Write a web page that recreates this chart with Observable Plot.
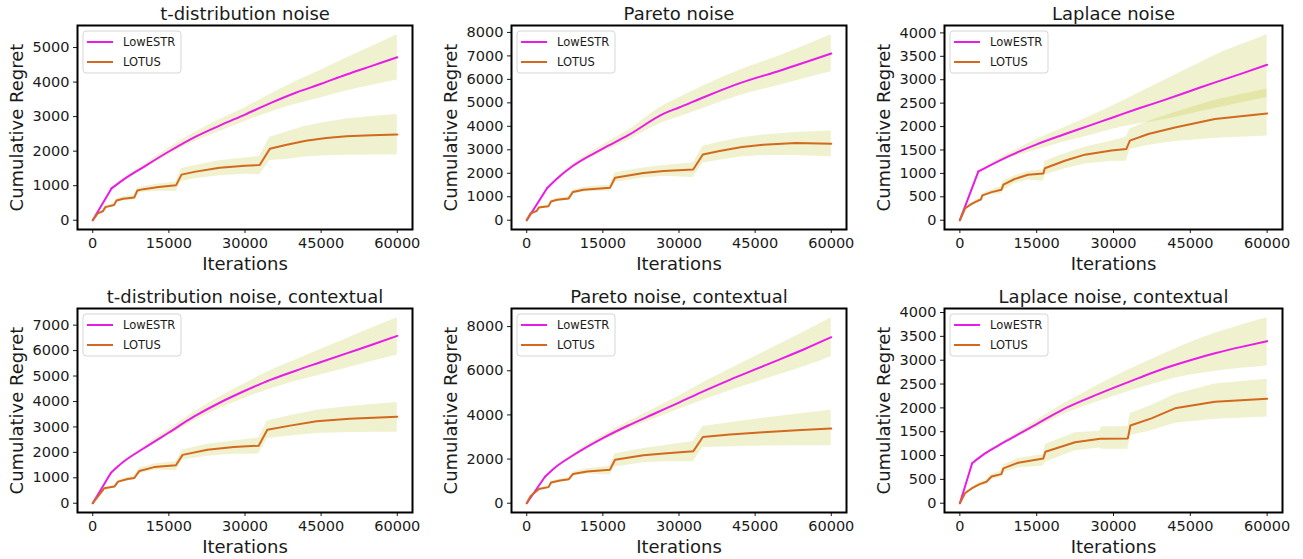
<!DOCTYPE html>
<html><head><meta charset="utf-8">
<script src="https://cdn.jsdelivr.net/npm/d3@7"></script>
<script src="https://cdn.jsdelivr.net/npm/@observablehq/plot@0.6"></script>
<style>
body{margin:0;background:#fff}
#c{position:relative;width:1303px;height:559px;overflow:hidden;background:#fff}
#c svg{position:absolute}
</style>
</head><body><div id="c"></div><script>
// ---------- shared ----------
const seriesNames = ["LowESTR", "LOTUS"];
const seriesColors = ["#e81ce8", "#d2691e"];
const bandColor = "#bcbd22";
const xTicks = [0, 15000, 30000, 45000, 60000];
const titles = ["t-distribution noise", "Pareto noise", "Laplace noise",
  "t-distribution noise, contextual", "Pareto noise, contextual", "Laplace noise, contextual"];
const yTicks1 = [0, 1000, 2000, 3000, 4000, 5000];
const yTicks2 = [0, 1000, 2000, 3000, 4000, 5000, 6000, 7000, 8000];
const yTicks3 = [0, 500, 1000, 1500, 2000, 2500, 3000, 3500, 4000];
const yTicks4 = [0, 1000, 2000, 3000, 4000, 5000, 6000, 7000];
const yTicks5 = [0, 2000, 4000, 6000, 8000];
const yTicks6 = [0, 500, 1000, 1500, 2000, 2500, 3000, 3500, 4000];

// ---------- panel 1: t-distribution noise ----------
const p1LowX  = [0, 3700, 6000, 10000, 15000, 20000, 25000, 30000, 35000, 40000, 45000, 50000, 55000, 60000];
const p1Low   = [0, 920, 1170, 1540, 1990, 2400, 2740, 3060, 3390, 3690, 3950, 4220, 4470, 4720];
const p1LowHi = [0, 950, 1220, 1600, 2090, 2530, 2910, 3260, 3650, 4020, 4350, 4700, 5030, 5370];
const p1LowLo = [0, 890, 1120, 1480, 1890, 2270, 2570, 2860, 3130, 3360, 3550, 3740, 3910, 4060];
const p1LotX  = [0, 1000, 2000, 2500, 4200, 4700, 6000, 8200, 8800, 10000, 13000, 16400, 17500, 20000, 25000, 30000, 32900, 34900, 38000, 42000, 46000, 50000, 55000, 60000];
const p1Lot   = [0, 200, 260, 380, 440, 570, 620, 660, 860, 900, 960, 1010, 1320, 1400, 1520, 1580, 1600, 2070, 2180, 2300, 2380, 2430, 2460, 2480];
const p1LotHi = [0, 220, 290, 420, 480, 620, 680, 720, 930, 980, 1050, 1110, 1500, 1580, 1720, 1800, 1850, 2400, 2550, 2720, 2840, 2930, 3000, 3060];
const p1LotLo = [0, 180, 230, 340, 390, 510, 550, 590, 780, 810, 840, 830, 1120, 1200, 1290, 1330, 1320, 1730, 1760, 1830, 1870, 1880, 1890, 1890];

// ---------- panel 2: Pareto noise ----------
const p2LowX  = [0, 4000, 6000, 9000, 15000, 20000, 27000, 30000, 35000, 42000, 50000, 60000];
const p2Low   = [0, 1360, 1780, 2300, 3050, 3620, 4540, 4800, 5250, 5840, 6380, 7100];
const p2LowHi = [0, 1390, 1830, 2380, 3200, 3830, 4900, 5220, 5740, 6390, 7020, 7900];
const p2LowLo = [0, 1330, 1730, 2220, 2900, 3410, 4180, 4400, 4780, 5310, 5760, 6320];
const p2LotX  = [0, 700, 2000, 2400, 4300, 4800, 6000, 8260, 9100, 11200, 16400, 17400, 23000, 27000, 32800, 34700, 38000, 42400, 46600, 53000, 60000];
const p2Lot   = [0, 280, 400, 540, 600, 800, 870, 930, 1200, 1300, 1380, 1810, 2010, 2100, 2160, 2800, 2950, 3120, 3220, 3290, 3260];
const p2LotHi = [0, 300, 440, 590, 660, 860, 940, 1010, 1290, 1400, 1500, 2020, 2220, 2330, 2440, 3150, 3320, 3510, 3630, 3740, 3800];
const p2LotLo = [0, 260, 360, 490, 540, 740, 800, 850, 1110, 1200, 1240, 1620, 1800, 1870, 1820, 2440, 2560, 2700, 2760, 2760, 2700];

// ---------- panel 3: Laplace noise ----------
const p3LowX  = [0, 3600, 5000, 10000, 15000, 20000, 25000, 30000, 35000, 40000, 45000, 50000, 55000, 60000];
const p3Low   = [0, 1040, 1120, 1390, 1620, 1820, 2010, 2200, 2390, 2570, 2760, 2950, 3130, 3320];
const p3LowHi = [0, 1060, 1150, 1450, 1730, 1960, 2200, 2450, 2720, 2990, 3260, 3530, 3750, 3960];
const p3LowLo = [0, 1020, 1090, 1330, 1500, 1660, 1800, 1950, 2060, 2150, 2270, 2390, 2510, 2620];
const p3LotX  = [0, 1000, 2300, 3600, 4100, 4400, 6200, 8100, 8500, 10700, 13300, 16300, 16600, 20500, 24400, 29600, 32500, 33200, 36800, 42000, 49800, 60000];
const p3Lot   = [0, 250, 350, 420, 440, 530, 600, 650, 760, 880, 970, 1000, 1110, 1270, 1400, 1490, 1520, 1700, 1840, 1980, 2160, 2280];
const p3LotHi = [0, 270, 380, 460, 480, 570, 650, 720, 840, 950, 1040, 1080, 1260, 1420, 1560, 1690, 1770, 1950, 2110, 2300, 2560, 2800];
const p3LotLo = [0, 230, 320, 390, 400, 490, 550, 560, 640, 780, 860, 830, 960, 1100, 1200, 1260, 1260, 1510, 1600, 1680, 1750, 1800];

// ---------- panel 4: t-distribution noise, contextual ----------
const p4LowX  = [0, 3600, 6000, 10000, 15000, 20000, 25000, 30000, 35000, 40000, 45000, 50000, 55000, 60000];
const p4Low   = [0, 1200, 1620, 2150, 2780, 3410, 3950, 4420, 4850, 5210, 5550, 5890, 6230, 6580];
const p4LowHi = [0, 1220, 1660, 2230, 2910, 3590, 4180, 4710, 5210, 5630, 6050, 6470, 6890, 7290];
const p4LowLo = [0, 1180, 1580, 2070, 2650, 3230, 3720, 4130, 4490, 4790, 5050, 5310, 5570, 5830];
const p4LotX  = [0, 1000, 2300, 4300, 5000, 6900, 8200, 9200, 12100, 16400, 17700, 22600, 27800, 32700, 34400, 38900, 44100, 50600, 60000];
const p4Lot   = [0, 260, 590, 660, 850, 950, 990, 1270, 1420, 1490, 1900, 2100, 2210, 2260, 2890, 3050, 3220, 3320, 3400];
const p4LotHi = [0, 280, 630, 710, 910, 1020, 1070, 1380, 1540, 1630, 2090, 2320, 2450, 2560, 3230, 3440, 3650, 3800, 3960];
const p4LotLo = [0, 240, 550, 610, 790, 880, 910, 1160, 1300, 1290, 1700, 1850, 1930, 1940, 2530, 2640, 2740, 2780, 2790];

// ---------- panel 5: Pareto noise, contextual ----------
const p5LowX  = [0, 3600, 5500, 9000, 15000, 20000, 25000, 30000, 35000, 40000, 45000, 50000, 55000, 60000];
const p5Low   = [0, 1200, 1600, 2150, 2950, 3520, 4040, 4560, 5090, 5590, 6060, 6530, 7010, 7520];
const p5LowHi = [0, 1230, 1650, 2230, 3080, 3690, 4270, 4860, 5490, 6080, 6650, 7220, 7800, 8400];
const p5LowLo = [0, 1170, 1550, 2070, 2820, 3350, 3810, 4260, 4690, 5100, 5470, 5840, 6220, 6640];
const p5LotX  = [0, 700, 2400, 4300, 4800, 6600, 8300, 9100, 11900, 16400, 17400, 23000, 27000, 32800, 34700, 40000, 46600, 53200, 60000];
const p5Lot   = [0, 300, 640, 730, 940, 1030, 1090, 1320, 1440, 1520, 1970, 2170, 2250, 2350, 3000, 3110, 3220, 3310, 3380];
const p5LotHi = [0, 320, 680, 780, 1000, 1100, 1170, 1420, 1560, 1680, 2240, 2480, 2600, 2800, 3480, 3650, 3850, 4030, 4220];
const p5LotLo = [0, 280, 600, 680, 880, 960, 1010, 1220, 1320, 1280, 1640, 1830, 1880, 1880, 2520, 2560, 2590, 2600, 2600];

// ---------- panel 6: Laplace noise, contextual ----------
const p6LowX  = [0, 2400, 3600, 5000, 7500, 10000, 15000, 20000, 25000, 30000, 35000, 40000, 45000, 50000, 55000, 60000];
const p6Low   = [0, 840, 940, 1050, 1210, 1360, 1660, 1960, 2200, 2420, 2630, 2830, 3000, 3150, 3280, 3400];
const p6LowHi = [0, 850, 960, 1070, 1240, 1400, 1740, 2070, 2360, 2640, 2900, 3140, 3370, 3570, 3740, 3890];
const p6LowLo = [0, 830, 920, 1030, 1180, 1320, 1580, 1850, 2060, 2240, 2410, 2570, 2690, 2770, 2830, 2880];
const p6LotX  = [0, 1000, 2300, 3900, 5200, 6200, 8100, 8500, 11400, 16300, 16700, 22500, 27400, 27600, 32800, 33300, 37400, 42000, 49800, 60000];
const p6Lot   = [0, 210, 310, 400, 450, 560, 610, 730, 850, 940, 1080, 1280, 1350, 1350, 1360, 1630, 1780, 1990, 2130, 2190];
const p6LotHi = [0, 230, 340, 440, 500, 610, 670, 800, 940, 1020, 1230, 1480, 1510, 1600, 1610, 1880, 2050, 2280, 2500, 2600];
const p6LotLo = [0, 190, 280, 360, 400, 500, 540, 640, 740, 780, 860, 1100, 1160, 1130, 1130, 1420, 1520, 1680, 1760, 1810];

// ---------- layout (frame left, right, top, bottom) ----------
const frames = [
  [77, 412, 25, 229], [511, 846, 25, 229], [944, 1282, 25, 229],
  [77, 412, 308, 512], [511, 846, 308, 512], [944, 1282, 308, 512]
];

const panels = [
  {lowX: p1LowX, low: p1Low, lowHi: p1LowHi, lowLo: p1LowLo, lotX: p1LotX, lot: p1Lot, lotHi: p1LotHi, lotLo: p1LotLo, yTicks: yTicks1},
  {lowX: p2LowX, low: p2Low, lowHi: p2LowHi, lowLo: p2LowLo, lotX: p2LotX, lot: p2Lot, lotHi: p2LotHi, lotLo: p2LotLo, yTicks: yTicks2},
  {lowX: p3LowX, low: p3Low, lowHi: p3LowHi, lowLo: p3LowLo, lotX: p3LotX, lot: p3Lot, lotHi: p3LotHi, lotLo: p3LotLo, yTicks: yTicks3},
  {lowX: p4LowX, low: p4Low, lowHi: p4LowHi, lowLo: p4LowLo, lotX: p4LotX, lot: p4Lot, lotHi: p4LotHi, lotLo: p4LotLo, yTicks: yTicks4},
  {lowX: p5LowX, low: p5Low, lowHi: p5LowHi, lowLo: p5LowLo, lotX: p5LotX, lot: p5Lot, lotHi: p5LotHi, lotLo: p5LotLo, yTicks: yTicks5},
  {lowX: p6LowX, low: p6Low, lowHi: p6LowHi, lowLo: p6LowLo, lotX: p6LotX, lot: p6Lot, lotHi: p6LotHi, lotLo: p6LotLo, yTicks: yTicks6}
];

const container = document.getElementById("c");
const FONT = "DejaVu Sans, sans-serif";
const TXT = "#1a1a1a";

panels.forEach((p, k) => {
  const [fl, fr, ft, fb] = frames[k];
  const mL = 77, mR = 18, mT = 25, mB = 46;
  const low = p.lowX.map((x, i) => ({x, y: p.low[i], lo: p.lowLo[i], hi: p.lowHi[i]}));
  const lowStart = low.slice(0, 2);   // straight initial segment up to the kink
  const lowRest = low.slice(1);       // smooth remainder
  const lot = p.lotX.map((x, i) => ({x, y: p.lot[i], lo: p.lotLo[i], hi: p.lotHi[i]}));
  const all = [...p.low, ...p.lowHi, ...p.lowLo, ...p.lot, ...p.lotHi, ...p.lotLo];
  const [mn, mx] = d3.extent(all);
  const pad = (mx - mn) * 0.05;
  const bandOpts = {x1: "x", y1: "lo", y2: "hi", fill: bandColor, fillOpacity: 0.22};
  const plot = Plot.plot({
    width: (fr - fl) + mL + mR,
    height: (fb - ft) + mT + mB,
    marginLeft: mL, marginRight: mR, marginTop: mT, marginBottom: mB,
    style: {fontFamily: FONT, fontSize: "14.5px", color: TXT, background: "transparent", overflow: "visible"},
    x: {domain: [-3000, 63000], ticks: xTicks, tickFormat: d => String(d), label: null, tickSize: 4, tickPadding: 4},
    y: {domain: [mn - pad, mx + pad], ticks: p.yTicks, tickFormat: d => String(d), label: null, tickSize: 4, tickPadding: 4},
    marks: [
      Plot.area(lowStart, bandOpts),
      Plot.area(lowRest, {...bandOpts, curve: "monotone-x"}),
      Plot.area(lot, bandOpts),
      Plot.line(lowStart, {x: "x", y: "y", stroke: seriesColors[0], strokeWidth: 2}),
      Plot.line(lowRest, {x: "x", y: "y", stroke: seriesColors[0], strokeWidth: 2, curve: "monotone-x"}),
      Plot.line(lot, {x: "x", y: "y", stroke: seriesColors[1], strokeWidth: 2}),
      Plot.frame({stroke: "black", strokeWidth: 2}),
      Plot.text([titles[k]], {text: d => d, frameAnchor: "top", lineAnchor: "bottom", dy: -6, fontSize: 18, fill: TXT}),
      Plot.text(["Iterations"], {text: d => d, frameAnchor: "bottom", lineAnchor: "bottom", dy: 40, fontSize: 18, fill: TXT}),
      Plot.text(["Cumulative Regret"], {text: d => d, frameAnchor: "left", textAnchor: "middle", rotate: -90, dx: -60, fontSize: 18, fill: TXT})
    ]
  });
  plot.style.left = (fl - mL) + "px";
  plot.style.top = (ft - mT) + "px";
  // legend
  const g = d3.select(plot).append("g").attr("transform", `translate(${mL + 6},${mT + 6})`);
  g.append("rect").attr("width", 98).attr("height", 42).attr("rx", 3)
    .attr("fill", "white").attr("fill-opacity", 0.8).attr("stroke", "#d6d6d6");
  seriesNames.forEach((name, i) => {
    const yy = 11 + i * 20;
    g.append("line").attr("x1", 4).attr("x2", 30).attr("y1", yy).attr("y2", yy)
      .attr("stroke", seriesColors[i]).attr("stroke-width", 2);
    g.append("text").attr("x", 40).attr("y", yy).attr("dy", "0.35em")
      .attr("text-anchor", "start")
      .attr("font-family", FONT).attr("font-size", 11.5).attr("fill", TXT).text(name);
  });
  container.appendChild(plot);
});
</script></body></html>
